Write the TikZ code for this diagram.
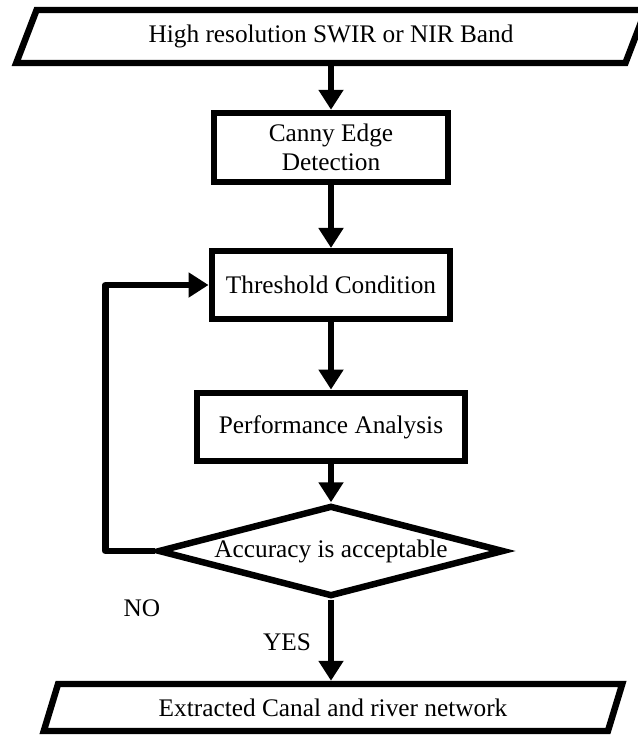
\documentclass[tikz,border=0pt]{standalone}
\usepackage{fontspec}
\setmainfont{Liberation Serif}
\usetikzlibrary{shapes.geometric, arrows.meta}

\begin{document}
\begin{tikzpicture}[
        x=0.025cm, y=-0.025cm,
        >={Triangle[length=0.5cm, width=0.6cm]},
        font=\fontsize{18}{20.7}\selectfont,
        io/.style={trapezium, trapezium stretches=true, draw=black, line width=4.6pt,
                   fill=white, inner sep=0pt, align=center},
        proc/.style={rectangle, draw=black, line width=4.6pt, fill=white,
                     inner sep=0pt, align=center},
        cond/.style={diamond, draw=black, line width=4.6pt, fill=white, aspect=3.8,
                     inner sep=0pt, minimum width=8.65cm, minimum height=2.275cm},
        lbl/.style={inner sep=0pt},
        arr/.style={->, draw=black, line width=4.6pt},
        loop/.style={->, draw=black, line width=4.6pt, line join=round}
    ]
    \useasboundingbox (0,0) rectangle (637,735);

    % Input band at top
    \node[io, trapezium left angle=61.3, trapezium right angle=118.7,
          minimum width=15.75cm, minimum height=1.325cm] (band) at (331,36.5)
          {High resolution SWIR or NIR Band};

    % Processing steps
    \node[proc, minimum width=5.85cm, minimum height=1.725cm] (canny)  at (331,147.5) {Canny Edge\\Detection};
    \node[proc, minimum width=5.96cm, minimum height=1.69cm]  (thresh) at (331,285)   {Threshold Condition};
    \node[proc, minimum width=6.7cm,  minimum height=1.71cm]  (perf)   at (331,427)   {Performance Analysis};

    % Decision
    \node[cond] (acc) at (331,551) {Accuracy is acceptable};

    % Output network at bottom
    \node[io, trapezium left angle=63, trapezium right angle=117,
          minimum width=14.475cm, minimum height=1.175cm] (net) at (333,707.5)
          {Extracted Canal and river network};

    % Branch labels
    \node[lbl] (no)  at (142,608) {NO};
    \node[lbl] (yes) at (287,642) {YES};

    \coordinate (back) at (105.5,551);

    % Main flow
    \draw[arr] (band.south -| canny.north) -- (canny.north);
    \draw[arr] (canny.south)  -- (thresh.north);
    \draw[arr] (thresh.south) -- (perf.north);
    \draw[arr] (perf.south)   -- (acc.north);
    \draw[arr] (acc.south)    -- (acc.south |- net.north);

    % Retry loop
    \draw[loop] (acc.west) -- (back) |- (thresh.west);

\end{tikzpicture}
\end{document}
